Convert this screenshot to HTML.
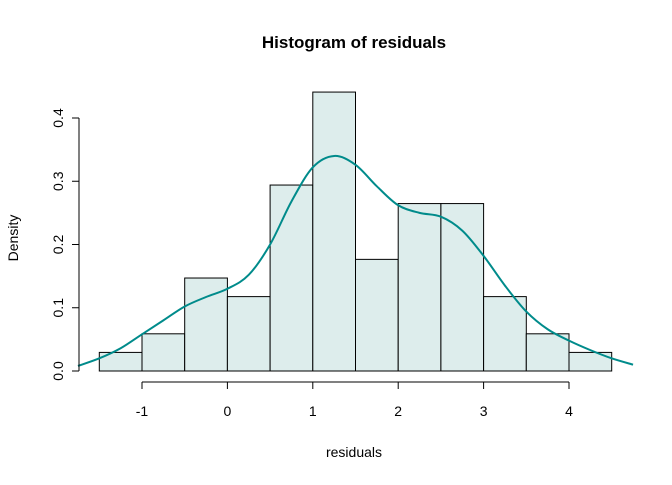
<!DOCTYPE html>
<html><head><meta charset="utf-8"><style>
body{margin:0;background:#fff}
svg text{font-family:"Liberation Sans",Arial,sans-serif;fill:#000}
</style></head><body>
<svg id="c" width="672" height="480" style="position:absolute;left:0;top:0"></svg>
<script>
const binStarts=[-1.5,-1,-0.5,0,0.5,1,1.5,2,2.5,3,3.5,4];
const binWidth=0.5;
const densities=[0.0294,0.0588,0.147,0.1176,0.294,0.441,0.1765,0.2647,0.2647,0.1176,0.0588,0.0294];
const curveX=[-1.75,-1.5,-1.25,-1,-0.75,-0.5,-0.25,0,0.25,0.5,0.75,1,1.25,1.5,1.75,2,2.25,2.5,2.75,3,3.25,3.5,3.75,4,4.25,4.5,4.75];
const curveY=[0.008,0.02,0.036,0.058,0.08,0.102,0.117,0.13,0.152,0.2,0.268,0.322,0.34,0.326,0.292,0.262,0.25,0.244,0.222,0.182,0.135,0.094,0.066,0.048,0.033,0.02,0.01];
const xTicks=[-1,0,1,2,3,4];
const yTicks=[0,0.1,0.2,0.3,0.4];
const NS="http://www.w3.org/2000/svg";
const svg=document.getElementById('c');
const X=v=>227.4+v*85.4;
const Y=v=>371-v*632.5;
function mk(t,a){const e=document.createElementNS(NS,t);for(const k in a)e.setAttribute(k,a[k]);svg.appendChild(e);return e;}
binStarts.forEach((s,i)=>{
 const r=mk('rect',{x:X(s),y:Y(densities[i]),width:X(s+binWidth)-X(s),height:Y(0)-Y(densities[i]),fill:'#ddedec',stroke:'#000','stroke-width':1});
 
 
});
const pts=curveX.map((x,i)=>[X(x),Y(curveY[i])]);
let d='M'+pts[0][0]+','+pts[0][1];
for(let i=0;i<pts.length-1;i++){
 const p0=pts[Math.max(0,i-1)],p1=pts[i],p2=pts[i+1],p3=pts[Math.min(pts.length-1,i+2)];
 d+=' C'+(p1[0]+(p2[0]-p0[0])/6)+','+(p1[1]+(p2[1]-p0[1])/6)+' '+(p2[0]-(p3[0]-p1[0])/6)+','+(p2[1]-(p3[1]-p1[1])/6)+' '+p2[0]+','+p2[1];
}
const p=mk('path',{d:d,fill:'none',stroke:'#008b8b','stroke-width':2});


const xa=mk('line',{x1:X(xTicks[0]),x2:X(xTicks[xTicks.length-1]),y1:382,y2:382,stroke:'#000'});


xTicks.forEach(t=>{
 mk('line',{x1:X(t),x2:X(t),y1:382,y2:389,stroke:'#000'});
 const tx=mk('text',{x:X(t),y:416,'text-anchor':'middle','font-size':14});tx.textContent=t;
 
 
});
const ya=mk('line',{x1:79,x2:79,y1:Y(yTicks[0]),y2:Y(yTicks[yTicks.length-1]),stroke:'#000'});


yTicks.forEach(t=>{
 mk('line',{x1:72,x2:79,y1:Y(t),y2:Y(t),stroke:'#000'});
 const tx=mk('text',{x:0,y:0,'text-anchor':'middle','font-size':14,transform:`translate(63,${Y(t)}) rotate(-90)`});tx.textContent=t===0?'0.0':t;
 
 
});
</script>
<div style="position:absolute;left:0;top:0;width:672px;height:480px;pointer-events:none">
<svg width="672" height="480">
<text x="354" y="48" text-anchor="middle" font-size="17" font-weight="bold" style="font-family:'Liberation Sans',Arial,sans-serif">Histogram of residuals</text>
<text x="354" y="457" text-anchor="middle" font-size="14" style="font-family:'Liberation Sans',Arial,sans-serif">residuals</text>
<text x="0" y="0" transform="translate(18,238) rotate(-90)" text-anchor="middle" font-size="14" style="font-family:'Liberation Sans',Arial,sans-serif">Density</text>
</svg></div>
</body></html>
